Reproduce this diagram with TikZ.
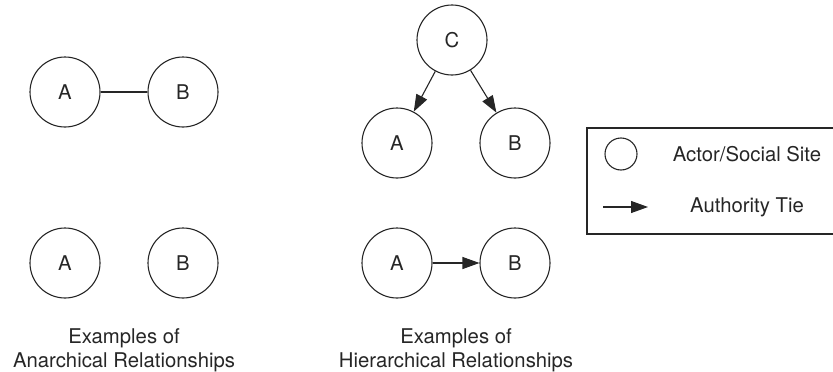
\documentclass[tikz,border=0pt]{standalone}
\usepackage{fontspec}
\setmainfont{TeX Gyre Heros}
\usetikzlibrary{arrows.meta}
\begin{document}
\begin{tikzpicture}[x=1pt,y=-1pt,
  every node/.style={font=\fontsize{20.3}{24}\selectfont, text=black!85},
  actor/.style={circle, draw=black!85, line width=1.1pt, minimum size=70pt, inner sep=0pt},
  tie/.style={draw=black!85, line width=1.1pt, -{Triangle[length=17pt,width=12pt]}},
  plain/.style={draw=black!85, line width=1.1pt},
  caption/.style={anchor=base, inner sep=0pt}]
\useasboundingbox (0,0) rectangle (833,372);
% anarchical
\node[actor] (a1) at (65,92) {A};
\node[actor] (b1) at (183,92) {B};
\draw[plain] (a1) -- (b1);
\node[actor] (a2) at (65,263) {A};
\node[actor] (b2) at (183,263) {B};
\node[caption] (cap1a) at (124,343) {Examples of};
\node[caption] (cap1b) at (124,367) {Anarchical Relationships};
% hierarchical
\node[actor] (c3) at (452,40) {C};
\node[actor] (a3) at (397,143) {A};
\node[actor] (b3) at (515,143) {B};
\draw[tie] (c3) -- (a3);
\draw[tie] (c3) -- (b3);
\node[actor] (a4) at (397,263) {A};
\node[actor] (b4) at (515,263) {B};
\draw[tie] (a4) -- (b4);
\node[caption] (cap2a) at (456,343) {Examples of};
\node[caption] (cap2b) at (456,367) {Hierarchical Relationships};
% legend
\draw[plain] (834,128) -- (587,128) -- (587,234) -- (834,234);
\node[circle, draw=black!85, line width=1.1pt, minimum size=32pt, inner sep=0pt] (lc) at (621,154) {};
\coordinate (ls) at (603,207);
\coordinate (le) at (648,207);
\draw[tie] (ls) -- (le);
\node (lt1) at (747,154) {Actor/Social Site};
\node (lt2) at (747,207) {Authority Tie};
\end{tikzpicture}
\end{document}
